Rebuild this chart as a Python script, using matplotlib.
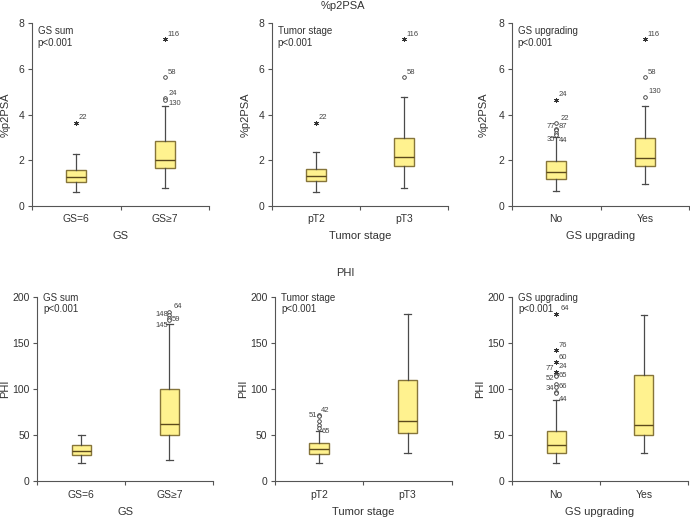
import matplotlib
matplotlib.use("Agg")
import matplotlib.pyplot as plt

plt.rcParams['font.family'] = ['Liberation Sans', 'DejaVu Sans']

# box stats per group: [whisker low, Q1, median, Q3, whisker high]
P2PSA_GS_STATS = [[0.62, 1.06, 1.29, 1.58, 2.26], [0.78, 1.67, 2.01, 2.86, 4.39]]
P2PSA_STAGE_STATS = [[0.62, 1.09, 1.32, 1.64, 2.36], [0.77, 1.74, 2.14, 2.96, 4.77]]
P2PSA_UPGR_STATS = [[0.64, 1.17, 1.49, 1.96, 3.0], [0.96, 1.77, 2.09, 2.96, 4.39]]
PHI_GS_STATS = [[20.3, 28.6, 32.6, 39.5, 50.0], [23.2, 50.0, 62.3, 100.0, 171.0]]
PHI_STAGE_STATS = [[20.3, 29.3, 35.5, 42.0, 54.3], [31.2, 52.9, 65.6, 109.8, 182.2]]
PHI_UPGR_STATS = [[20.3, 30.8, 39.9, 54.3, 88.0], [31.2, 50.7, 60.9, 115.2, 181.0]]

GS_CATS = ['GS=6', 'GS\u22657']
STAGE_CATS = ['pT2', 'pT3']
UPGR_CATS = ['No', 'Yes']

# outliers: (group index, value, marker kind, case label)
P2PSA_GS_OUT = [(0, 3.65, '*', '22'), (1, 4.72, 'o', '24'), (1, 4.63, 'o', '130'),
                (1, 5.65, 'o', '58'), (1, 7.3, '*', '116')]
P2PSA_STAGE_OUT = [(0, 3.64, '*', '22'), (1, 5.65, 'o', '58'), (1, 7.3, '*', '116')]
P2PSA_UPGR_OUT = [(0, 4.65, '*', '24'), (0, 3.65, 'o', '22'), (0, 3.38, 'o', '77'),
                  (0, 3.32, 'o', '87'), (0, 3.2, 'o', '35'), (0, 3.12, 'o', '44'),
                  (1, 4.78, 'o', '130'), (1, 5.65, 'o', '58'), (1, 7.3, '*', '116')]
PHI_GS_OUT = [(1, 184, 'o', '64'), (1, 181, 'o', '148'), (1, 178, 'o', '59'), (1, 175, 'o', '145')]
PHI_STAGE_OUT = [(0, 72, 'o', '51'), (0, 71.5, 'o', '42'), (0, 66, 'o', ''), (0, 61, 'o', ''),
                 (0, 57.5, 'o', '65')]
PHI_UPGR_OUT = [(0, 182, '*', '64'), (0, 142.5, '*', '76'), (0, 129.7, '*', '60'),
                (0, 119, '*', '24'), (0, 116, 'o', '77'), (0, 115, 'o', '65'),
                (0, 106, 'o', '52'), (0, 103, 'o', '66'), (0, 97.5, 'o', '34'),
                (0, 95.5, 'o', '44')]

# label offsets in points (styling only)
P2PSA_GS_OFF = [(2, 4), (2.5, 3.5), (2.5, -2.5), (2, 3.5), (2, 3.5)]
P2PSA_STAGE_OFF = [(2, 4), (2, 3.5), (2, 3.5)]
P2PSA_UPGR_OFF = [(2, 3.5), (3, 3), (-1, 1.5), (2, 2.5), (-1, -5), (2, -4),
                  (2.5, 3.5), (2, 3.5), (2, 3.5)]
PHI_GS_OFF = [(3, 4), (-1, 0), (2, -1.5), (-1, -4)]
PHI_STAGE_OFF = [(-1.5, 0), (1.5, 3.5), (0, 0), (0, 0), (2, -2.5)]
PHI_UPGR_OFF = [(3, 4), (2, 3.5), (2, 3.5), (2, 3.5), (-1.5, 4.5), (2, 0),
                (-1.5, 3.5), (2, 0), (-1.5, 2.5), (2, -4.5)]

BOX_FACE = '#fff28f'
BOX_EDGE = '#86753a'
MED_COLOR = '#5c4a1c'
WHISK = '#4a4a4a'
TXT = '#333333'

W, H = 690, 518
fig = plt.figure(figsize=(W / 100, H / 100), dpi=100)


def add_ax(left, right, top, bottom):
    return fig.add_axes([left / W, 1 - bottom / H, (right - left) / W, (bottom - top) / H])


def draw_panel(ax, stats, outs, offs, ymax, yticks, cats, xlabel, ylabel, note, note_y, ylab_px):
    bstats = [dict(whislo=s[0], q1=s[1], med=s[2], q3=s[3], whishi=s[4], fliers=[]) for s in stats]
    ax.bxp(bstats, positions=[0.5, 1.5], widths=0.22, capwidths=0.075, patch_artist=True,
           showfliers=False,
           boxprops=dict(facecolor=BOX_FACE, edgecolor=BOX_EDGE, linewidth=1.0),
           medianprops=dict(color=MED_COLOR, linewidth=1.0),
           whiskerprops=dict(color=WHISK, linewidth=0.9),
           capprops=dict(color=WHISK, linewidth=0.9))
    xs = [0.5, 1.5]
    for (g, v, kind, lbl), (dx, dy) in zip(outs, offs):
        if kind == 'o':
            ax.plot(xs[g], v, 'o', ms=2.6, mfc='white', mec=TXT, mew=0.6, clip_on=False)
        else:
            ax.plot(xs[g], v, marker=(6, 2, 0), ms=3.4, color=TXT, mew=0.6, clip_on=False)
        if lbl:
            ax.annotate(lbl, (xs[g], v), xytext=(dx, dy), textcoords='offset points',
                        fontsize=5.5, color='#444444', va='center',
                        ha='left' if dx > 0 else 'right')

    ax.set_xlim(0, 2)
    ax.set_ylim(0, ymax)
    ax.set_yticks(yticks)
    ax.set_xticks([0, 1, 2])
    ax.set_xticklabels([])
    ax.set_xticks(xs, minor=True)
    ax.set_xticklabels(cats, minor=True)
    ax.tick_params(axis='x', which='minor', length=0, pad=6, labelsize=7.5, labelcolor=TXT)
    ax.tick_params(axis='both', which='major', length=3, width=0.8, color='#555555',
                   labelsize=7.5, labelcolor=TXT, pad=2.5)
    for side in ('top', 'right'):
        ax.spines[side].set_visible(False)
    for side in ('left', 'bottom'):
        ax.spines[side].set_color('#555555')
        ax.spines[side].set_linewidth(0.8)

    ax.set_xlabel(xlabel, fontsize=8, color=TXT, labelpad=5)
    ax.set_ylabel(ylabel, fontsize=8, color=TXT)
    width_px = ax.get_position().width * W
    ax.yaxis.set_label_coords(-ylab_px / width_px, 0.5)
    # two note lines as separate texts so their boxes stay tight
    for i, line in enumerate(note):
        ax.annotate(line, (6 / width_px, note_y), xycoords='axes fraction',
                    xytext=(0, -8.4 * i), textcoords='offset points',
                    ha='left', va='top', fontsize=7.0, color=TXT)


ax1 = add_ax(31.7, 209.3, 23.3, 206)
ax2 = add_ax(271.7, 448.3, 23.3, 206)
ax3 = add_ax(511.7, 689.3, 23.3, 206)
ax4 = add_ax(37.3, 213.3, 297.3, 481.3)
ax5 = add_ax(275, 451.7, 297.3, 481.3)
ax6 = add_ax(512.3, 687.7, 297.3, 481.3)

p_ticks = [0, 2, 4, 6, 8]
phi_ticks = [0, 50, 100, 150, 200]

draw_panel(ax1, P2PSA_GS_STATS, P2PSA_GS_OUT, P2PSA_GS_OFF, 8, p_ticks, GS_CATS,
           'GS', '%p2PSA', ['GS sum', 'p<0.001'], 0.985, 21)
draw_panel(ax2, P2PSA_STAGE_STATS, P2PSA_STAGE_OUT, P2PSA_STAGE_OFF, 8, p_ticks, STAGE_CATS,
           'Tumor stage', '%p2PSA', ['Tumor stage', 'p<0.001'], 0.985, 21.5)
draw_panel(ax3, P2PSA_UPGR_STATS, P2PSA_UPGR_OUT, P2PSA_UPGR_OFF, 8, p_ticks, UPGR_CATS,
           'GS upgrading', '%p2PSA', ['GS upgrading', 'p<0.001'], 0.985, 23)
draw_panel(ax4, PHI_GS_STATS, PHI_GS_OUT, PHI_GS_OFF, 200, phi_ticks, GS_CATS,
           'GS', 'PHI', ['GS sum', 'p<0.001'], 1.025, 27)
draw_panel(ax5, PHI_STAGE_STATS, PHI_STAGE_OUT, PHI_STAGE_OFF, 200, phi_ticks, STAGE_CATS,
           'Tumor stage', 'PHI', ['Tumor stage', 'p<0.001'], 1.025, 26.5)
draw_panel(ax6, PHI_UPGR_STATS, PHI_UPGR_OUT, PHI_UPGR_OFF, 200, phi_ticks, UPGR_CATS,
           'GS upgrading', 'PHI', ['GS upgrading', 'p<0.001'], 1.025, 27)

fig.text(343 / W, 1 - 6 / H, '%p2PSA', ha='center', va='center', fontsize=8, color=TXT)
fig.text(345 / W, 1 - 273 / H, 'PHI', ha='center', va='center', fontsize=8, color=TXT)

fig.savefig('out.png', dpi=100)
